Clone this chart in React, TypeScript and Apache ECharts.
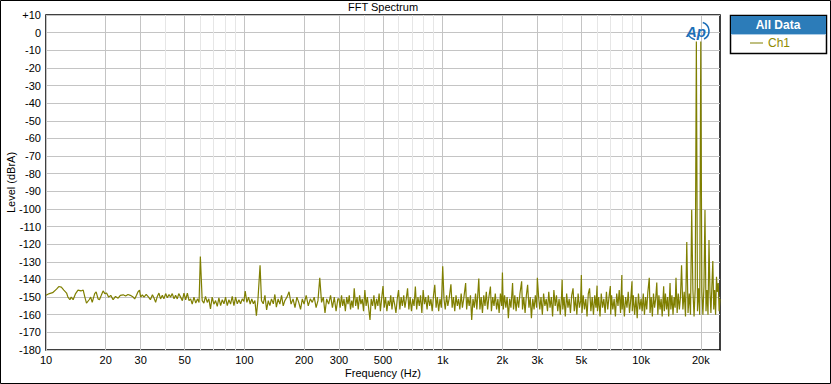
import React, { useEffect, useRef } from 'react';
import * as echarts from 'echarts';

// Tick positions (Hz)
const majorTicks = [10, 20, 30, 50, 100, 200, 300, 500, 1000, 2000, 3000, 5000, 10000, 20000];
const minorTicks = [40, 60, 70, 80, 90, 400, 600, 700, 800, 900, 4000, 6000, 7000, 8000, 9000];
const levelTicks = { min: -180, max: 10, step: 10 };

// [frequency Hz, level dBrA]
const lowBand: number[][] = [
  [10.0, -149], [10.4, -148], [10.8, -147.5], [11.3, -145.5], [11.6, -144], [11.95, -144.3], [12.3, -146],
  [12.7, -147.7], [12.9, -150], [13.2, -151.5], [13.4, -150], [13.7, -151.5], [14.1, -148], [14.5, -146],
  [15.0, -146.5], [15.4, -146], [15.7, -150], [16.0, -153.4], [16.5, -151.5], [16.8, -150], [17.1, -153],
  [17.6, -148], [17.9, -147], [18.3, -151], [18.6, -151.5], [19.0, -149], [19.4, -146.5], [19.8, -148],
  [20.2, -147.7], [20.7, -150], [21.2, -149], [21.8, -151.5], [22.4, -149.6], [23.1, -150.6], [23.7, -149],
  [24.5, -148.7], [25.2, -149.4], [25.9, -148.5], [26.6, -149], [27.5, -150], [28.0, -151], [28.6, -149],
  [29.1, -147], [29.6, -146], [30.0, -150], [30.6, -148.7], [31.2, -150], [32.0, -148.5], [32.9, -150],
  [33.6, -151.5], [34.4, -148.7], [35.0, -150.4], [35.7, -153], [36.4, -149.6], [37.1, -147.7], [37.8, -151],
  [38.6, -149], [39.3, -151], [40.1, -148], [40.9, -150.4], [41.7, -148.5], [42.5, -150], [43.3, -148],
  [44.2, -151], [45.0, -149], [45.9, -151], [46.7, -148], [47.7, -150], [48.7, -152], [49.6, -147.7],
  [50.6, -151.5], [51.6, -147.7], [52.6, -152], [53.6, -151], [54.6, -154], [55.7, -150], [56.9, -153.4],
  [58.0, -151], [59.1, -153],
];

const humBand: number[][] = [
  [60, -127], [61.3, -152], [62.5, -153.4], [63.7, -149.6], [65, -153], [66.2, -151], [67.5, -156.7],
  [68.8, -150], [70.2, -154], [71.6, -152], [73, -155.3], [74.4, -150.4], [75.9, -154.8], [77.4, -151.5],
  [78.9, -153.8], [80.4, -150], [82, -154.8], [83.6, -151.5], [85.2, -154], [86.9, -149.6], [88.6, -154.8],
  [90.3, -150], [92.1, -153.8], [93.9, -151.5], [95.7, -153.8], [97.6, -151], [99.5, -152.4], [101, -146.6],
  [103, -153], [105, -150], [107, -154], [109, -151], [111, -153.8], [113, -152], [115, -160.5], [117, -152],
  [120, -132], [122, -152], [124.5, -153.8], [127, -149], [129.5, -157.3], [132, -152], [134.5, -154.8],
  [137, -151], [140, -153.8], [142.5, -148.5], [145, -155.7], [148, -151], [151, -154], [154, -149],
  [157, -155], [160, -152], [164, -150], [168, -147], [172, -154], [176, -151], [180, -156], [184, -150],
  [188, -153], [192, -157], [196, -151], [200, -154], [205, -149], [210, -155], [215, -151], [220, -153],
  [225, -150], [230, -156], [235, -152], [240, -139], [245, -153], [250, -150], [255, -159], [260, -151],
  [266, -154], [272, -149], [278, -156], [284, -150], [290, -158], [296, -151],
];

const midBand: number[][] = [
  [300, -151], [304, -156], [309, -149], [313, -155], [318, -151], [323, -158], [328, -150], [333, -154],
  [338, -149], [343, -157], [348, -152], [353, -156], [358, -145], [364, -155], [370, -150], [375, -157],
  [381, -149], [387, -154], [393, -151], [399, -158], [405, -146], [411, -155], [417, -150], [423, -156],
  [430, -163], [436, -151], [443, -155], [450, -149], [457, -157], [464, -151], [471, -155], [478, -148],
  [485, -158], [492, -151], [500, -143.7], [507, -156], [515, -150], [523, -158], [531, -152], [539, -155],
  [547, -149], [555, -157], [563, -150], [572, -154], [581, -159], [590, -151], [599, -146], [608, -157],
  [617, -150], [626, -155], [636, -149], [645, -156], [655, -151], [665, -145], [675, -157], [685, -150],
  [696, -158], [706, -151], [717, -155], [728, -144], [739, -157], [750, -150], [762, -155], [773, -149],
  [785, -159], [797, -146], [809, -154], [821, -150], [834, -157], [846, -149], [859, -155], [872, -151],
  [885, -158], [899, -149], [912, -143], [926, -156], [940, -150], [954, -158], [969, -151], [984, -156],
  [1000, -132.5],
  [1015, -151], [1030, -157], [1046, -149], [1061, -155], [1077, -151], [1100, -142.7], [1116, -156],
  [1133, -150], [1150, -158], [1167, -149], [1185, -155], [1202, -151], [1220, -157], [1239, -148],
  [1257, -156], [1276, -151], [1305, -142], [1320, -157], [1340, -150], [1360, -155], [1380, -149],
  [1400, -163], [1421, -151], [1443, -156], [1464, -148], [1486, -157], [1520, -139.5], [1540, -157],
  [1563, -150], [1586, -159], [1610, -149], [1634, -155], [1659, -147], [1684, -157], [1709, -150],
  [1740, -144], [1760, -158], [1787, -150], [1814, -155], [1841, -148], [1869, -157], [1897, -151],
  [1925, -159], [1954, -148], [1983, -155], [2000, -136], [2020, -157], [2050, -149], [2081, -156],
  [2112, -150], [2143, -162], [2175, -151], [2208, -156], [2250, -142], [2275, -157], [2309, -149],
  [2344, -158], [2379, -150], [2415, -156], [2451, -148], [2500, -141], [2525, -157], [2563, -150],
  [2602, -159], [2641, -149], [2680, -143], [2721, -156], [2762, -150], [2800, -162], [2845, -151],
  [2888, -157], [2931, -149], [2975, -156], [3000, -139],
];

const highBand: number[][] = [
  [3040, -149], [3085, -157], [3130, -150], [3180, -160], [3225, -148], [3275, -155], [3325, -151],
  [3375, -158], [3425, -147], [3475, -156], [3530, -150], [3580, -161], [3635, -146], [3690, -155],
  [3745, -149], [3800, -158], [3860, -151], [3915, -160], [3975, -149], [4000, -140], [4030, -157],
  [4090, -150], [4150, -161], [4215, -148], [4280, -156], [4340, -151], [4405, -159], [4470, -149],
  [4540, -145], [4605, -158], [4675, -150], [4745, -160], [4815, -148], [4890, -156], [4960, -152],
  [5000, -137.5], [5035, -159], [5110, -149], [5185, -157], [5265, -151], [5340, -161], [5420, -148],
  [5500, -145], [5585, -158], [5670, -150], [5755, -160], [5840, -149], [5925, -156], [6000, -143.5],
  [6030, -158], [6115, -150], [6210, -161], [6300, -148], [6395, -156], [6490, -151], [6590, -159],
  [6690, -147], [6790, -157], [6890, -150], [7000, -143.7], [7030, -160], [7100, -149], [7205, -157],
  [7315, -151], [7425, -161], [7535, -148], [7650, -155], [7760, -146], [7880, -159], [8000, -137.5],
  [8030, -157], [8120, -149], [8240, -161], [8360, -150], [8490, -156], [8615, -147], [8745, -159],
  [8875, -151], [9000, -141], [9030, -158], [9140, -149], [9280, -160], [9420, -150], [9560, -162],
  [9700, -148], [9850, -157], [10000, -151],
];

const imdBand: number[][] = [
  [10130, -158], [10260, -148], [10400, -160], [10540, -150], [10680, -157], [10820, -147], [11000, -139],
  [11100, -159], [11250, -150], [11400, -161], [11550, -148], [11700, -156], [11850, -151], [12000, -141.7],
  [12150, -160], [12300, -149], [12460, -157], [12620, -151], [12780, -161], [13000, -143.8], [13100, -158],
  [13270, -148], [13440, -157], [13610, -150], [13780, -161], [14000, -142], [14130, -157], [14310, -149],
  [14490, -160], [14670, -150], [14850, -156], [15000, -139], [15200, -159], [15400, -148], [15600, -157],
  [15800, -150], [16000, -132], [16250, -157], [16500, -147], [16750, -161], [17000, -118.8], [17250, -159],
  [17500, -148], [17750, -160], [18000, -100.5], [18250, -146], [18500, -161], [18750, -145], [19000, -5],
  [19250, -158], [19500, -145], [19750, -160], [20000, -5], [20250, -147], [20500, -160], [20750, -144],
  [21000, -100.6], [21250, -158], [21500, -146], [21750, -160], [22000, -117.6], [22250, -147],
  [22500, -159], [22750, -144], [23000, -129.5], [23250, -157], [23500, -146], [23750, -160],
  [24000, -138.5], [24250, -147], [24500, -142], [24750, -158], [25000, -151],
];

const OLIVE = '#7f7f00';
const FONT = 'Liberation Sans, Arial, sans-serif';

export default function App() {
  const ref = useRef<HTMLDivElement>(null);
  useEffect(() => {
    const chart = echarts.init(ref.current!, null, { renderer: 'svg' });
    const fmtX = (v: number) => (v >= 1000 ? `${v / 1000}k` : `${v}`);
    chart.setOption({
      animation: false,
      backgroundColor: '#fff',
      textStyle: { fontFamily: FONT },
      title: {
        text: 'FFT Spectrum',
        left: 383,
        top: 1,
        textAlign: 'center',
        padding: 0,
        textStyle: { fontSize: 11, fontWeight: 'normal', color: '#000', fontFamily: FONT },
      },
      legend: {
        data: [{ name: 'Ch1', icon: 'rect' }],
        left: 750,
        top: 37,
        itemWidth: 13,
        itemHeight: 1,
        padding: 0,
        selectedMode: false,
        textStyle: { color: '#8f8a00', fontSize: 12, fontFamily: FONT },
      },
      grid: {
        left: 46,
        right: 111,
        top: 15,
        bottom: 34,
        show: true,
        borderColor: '#000',
        borderWidth: 1.5,
        containLabel: false,
        outerBoundsMode: 'none',
      },
      xAxis: [
        {
          type: 'log',
          logBase: 10,
          min: 10,
          max: 25000,
          name: 'Frequency (Hz)',
          nameLocation: 'middle',
          nameGap: 17,
          nameMoveOverlap: false,
          nameTextStyle: { fontSize: 11, color: '#000', fontFamily: FONT },
          axisLine: { show: false },
          axisTick: { show: false, customValues: majorTicks },
          axisLabel: { customValues: majorTicks, formatter: fmtX, fontSize: 11, color: '#000', margin: 4, hideOverlap: false },
          splitLine: { show: true, lineStyle: { color: '#c4c4c4', width: 1 } },
        },
        {
          type: 'log',
          logBase: 10,
          min: 10,
          max: 25000,
          gridIndex: 0,
          position: 'bottom',
          axisLine: { show: false },
          axisTick: { show: false, customValues: minorTicks },
          axisLabel: { show: false },
          splitLine: { show: true, lineStyle: { color: '#e6e6e6', width: 1 } },
        },
      ],
      yAxis: {
        type: 'value',
        min: levelTicks.min,
        max: levelTicks.max,
        interval: levelTicks.step,
        name: 'Level (dBrA)',
        nameLocation: 'middle',
        nameGap: 30,
        nameMoveOverlap: false,
        nameTextStyle: { fontSize: 11, color: '#000', fontFamily: FONT },
        axisLine: { show: false },
        axisTick: { show: false },
        axisLabel: { fontSize: 11, color: '#000', margin: 5, formatter: (v: number) => (v > 0 ? `+${v}` : `${v}`) },
        splitLine: { show: true, lineStyle: { color: '#c4c4c4', width: 1 } },
      },
      series: [
        {
          name: 'Ch1',
          type: 'line',
          xAxisIndex: 0,
          data: [...lowBand, ...humBand, ...midBand, ...highBand, ...imdBand],
          showSymbol: false,
          symbol: 'none',
          lineStyle: { width: 1.2, color: OLIVE },
          itemStyle: { color: OLIVE },
          z: 3,
        },
      ],
      graphic: [
        { type: 'rect', shape: { x: 0.5, y: 0.5, width: 830, height: 383 }, style: { fill: 'none', stroke: '#000', lineWidth: 1 }, silent: true },
        { type: 'rect', shape: { x: 730.5, y: 15.5, width: 96, height: 38 }, style: { fill: '#fff', stroke: '#000', lineWidth: 1.5 }, silent: true },
        { type: 'rect', shape: { x: 731, y: 16, width: 95, height: 18 }, style: { fill: '#2c7cb9' }, silent: true },
        { type: 'line', shape: { x1: 731, y1: 34.5, x2: 826, y2: 34.5 }, style: { stroke: '#a9cbe6', lineWidth: 1 }, silent: true },
        { type: 'text', x: 778, y: 25, style: { text: 'All Data', fill: '#fff', font: `bold 12px ${FONT}`, align: 'center', verticalAlign: 'middle' }, silent: true },
        { type: 'text', x: 696, y: 31, z: 10, style: { text: 'Ap', fill: '#1d6fb8', font: `italic bold 15px ${FONT}`, align: 'center', verticalAlign: 'middle' }, silent: true },
        { type: 'arc', z: 10, shape: { cx: 700, cy: 31, r: 9, startAngle: -Math.PI * 0.4, endAngle: Math.PI * 0.35 }, style: { stroke: '#1d6fb8', lineWidth: 1.6, fill: 'none' }, silent: true },
        { type: 'arc', z: 10, shape: { cx: 698, cy: 28, r: 12, startAngle: Math.PI * 0.58, endAngle: Math.PI * 0.82 }, style: { stroke: '#1d6fb8', lineWidth: 1.2, fill: 'none' }, silent: true },
      ],
    });
    return () => chart.dispose();
  }, []);
  return <div ref={ref} style={{ position: 'fixed', left: 0, top: 0, width: 831, height: 384, background: '#fff' }} />;
}
